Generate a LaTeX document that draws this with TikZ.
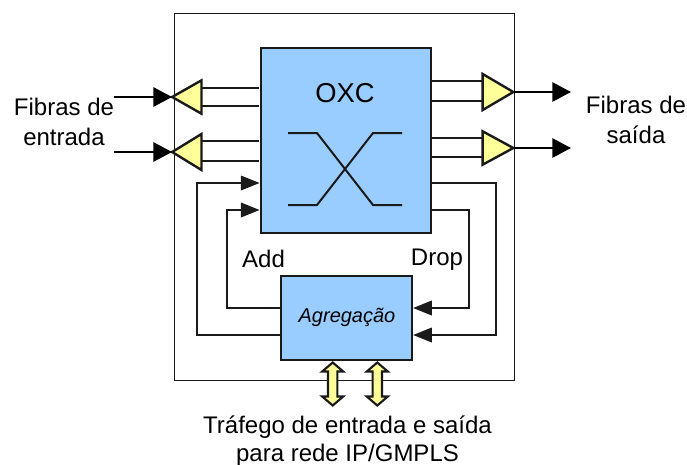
\documentclass[tikz,border=0pt]{standalone}
\usepackage{fontspec}
\setmainfont{Liberation Sans}
\usetikzlibrary{arrows.meta,shapes.geometric}
\definecolor{boxblue}{HTML}{99CCFF}
\definecolor{triyellow}{HTML}{FFFF99}
\definecolor{ink}{HTML}{1A1A1A}
\tikzset{
  x=0.75pt,y=-0.75pt,
  frame/.style={draw=ink,line width=0.75pt},
  block/.style={draw=ink,fill=boxblue,rectangle,inner sep=0pt,line join=miter},
  amp/.style={draw=ink,fill=triyellow,line width=1.8pt,isosceles triangle,isosceles triangle stretches,inner sep=0pt,line join=miter},
  bus/.style={draw=ink,line width=1.5pt},
  feed/.style={draw=black,line width=1.4pt,-{Triangle[length=14pt,width=14.5pt]}},
  loopline/.style={draw=ink,line width=0.95pt,-{Triangle[length=14pt,width=11pt]}},
  sw/.style={draw=ink,line width=1.5pt},
  dbl/.style={draw=ink,fill=triyellow,line width=1.6pt,line join=miter},
  lbl/.style={inner sep=0pt,align=center,font=\fontsize{18pt}{22pt}\selectfont},
}
\newcommand{\updownarrowshape}[1]{%
  \draw[dbl] (#1) ++(0,-21.5) -- ++(10.5,9) -- ++(-5.8,0) -- ++(0,25) -- ++(5.8,0)
    -- ++(-10.5,9) -- ++(-10.5,-9) -- ++(5.8,0) -- ++(0,-25) -- ++(-5.8,0) -- cycle;}
\begin{document}
\begin{tikzpicture}
\useasboundingbox (0,0) rectangle (687,465);
\node[frame,rectangle,inner sep=0pt,minimum width=255pt,minimum height=275.25pt] (frame) at (344,196.5) {};

\node[block,line width=2.1pt,minimum width=127.5pt,minimum height=138.75pt] (oxc) at (346,140.5) {};
\node[block,line width=1.7pt,minimum width=98.25pt,minimum height=63pt] (agg) at (346.5,318) {};

\node[inner sep=0pt,font=\fontsize{20.5pt}{24pt}\selectfont] (oxcl) at (345,93) {OXC};
\node[inner sep=0pt,font=\itshape\fontsize{15pt}{18pt}\selectfont] (aggl) at (347,317) {Agregação};

% switch symbol
\coordinate (s1) at (288,133); \coordinate (s2) at (317,133); \coordinate (s3) at (373,205); \coordinate (s4) at (402,205);
\coordinate (r1) at (288,205); \coordinate (r2) at (317,205); \coordinate (r3) at (373,133); \coordinate (r4) at (402,133);
\draw[sw] (s1) -- (s2) -- (s3) -- (s4);
\draw[sw] (r1) -- (r2) -- (r3) -- (r4);

% bus lines, below the amplifiers
\draw[bus] (201,88) -- (259,88);
\draw[bus] (201,106) -- (259,106);
\draw[bus] (201,141) -- (259,141);
\draw[bus] (201,161) -- (259,161);
\draw[bus] (432,81) -- (483,81);
\draw[bus] (432,101) -- (483,101);
\draw[bus] (432,138) -- (483,138);
\draw[bus] (432,157) -- (483,157);

% input amplifiers
\node[amp,shape border rotate=180,minimum width=25pt,minimum height=22pt,anchor=apex] (inA) at (169,97) {};
\node[amp,shape border rotate=180,minimum width=27pt,minimum height=22pt,anchor=apex] (inB) at (169,152) {};
\coordinate (fa) at (114,97); \coordinate (fb) at (114,152);
\coordinate (ta) at (172,97); \coordinate (tb) at (172,152);
\draw[feed] (fa) -- (ta);
\draw[feed] (fb) -- (tb);

% output amplifiers
\node[amp,minimum width=27pt,minimum height=23pt,anchor=apex] (outA) at (516.5,92) {};
\node[amp,minimum width=25pt,minimum height=23pt,anchor=apex] (outB) at (516.5,148) {};
\coordinate (ua) at (514,92); \coordinate (ub) at (514,148);
\coordinate (ga) at (571,92); \coordinate (gb) at (571,148);
\draw[feed] (ua) -- (ga);
\draw[feed] (ub) -- (gb);

% add / drop loops
\draw[loopline] (agg.west |- 0,335) -- (197,335) -- (197,183) -- (oxc.west |- 0,183);
\draw[loopline] (agg.west |- 0,308) -- (227,308) -- (227,210) -- (oxc.west |- 0,210);
\draw[loopline] (oxc.east |- 0,183) -- (496,183) -- (496,335) -- (agg.east |- 0,335);
\draw[loopline] (oxc.east |- 0,210) -- (469,210) -- (469,308) -- (agg.east |- 0,308);

% double arrows
\coordinate (d1) at (332.7,384); \coordinate (d2) at (377.3,384);
\updownarrowshape{d1}
\updownarrowshape{d2}

% labels
\node[lbl] (lin) at (64,122) {Fibras de\\entrada};
\node[lbl] (lout) at (636,120) {Fibras de\\saída};
\node[lbl] (ladd) at (263.5,259) {Add};
\node[lbl] (ldrop) at (437,260) {Drop};
\node[lbl,font=\fontsize{18pt}{21pt}\selectfont] (ltraf) at (347.5,441) {Tráfego de entrada e saída\\para rede IP/GMPLS};
\end{tikzpicture}
\end{document}
